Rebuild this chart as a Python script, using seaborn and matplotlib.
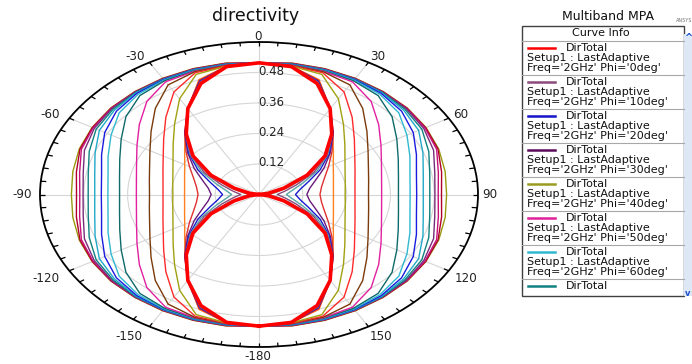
import numpy as np
import pandas as pd
import matplotlib
matplotlib.use("Agg")
import matplotlib.pyplot as plt
import seaborn as sns
from matplotlib.patches import Rectangle
from matplotlib.transforms import offset_copy

# theta (deg) of one quadrant, the other three quadrants are mirrored
theta_quarter = [0, 10, 20, 30, 40, 50, 60, 70, 80, 90]

# DirTotal traces, innermost (red figure-8) -> outermost
tr00 = [0.518, 0.511, 0.465, 0.390, 0.310, 0.236, 0.152, 0.072, 0.025, 0.000]
tr01 = [0.518, 0.511, 0.467, 0.390, 0.311, 0.240, 0.162, 0.089, 0.047, 0.025]
tr02 = [0.518, 0.511, 0.469, 0.390, 0.312, 0.244, 0.173, 0.108, 0.071, 0.050]
tr03 = [0.518, 0.511, 0.471, 0.390, 0.313, 0.247, 0.183, 0.126, 0.092, 0.075]
tr04 = [0.518, 0.512, 0.473, 0.391, 0.314, 0.251, 0.193, 0.143, 0.114, 0.100]
tr05 = [0.518, 0.512, 0.475, 0.391, 0.316, 0.255, 0.205, 0.165, 0.141, 0.131]
tr06 = [0.518, 0.512, 0.478, 0.392, 0.317, 0.261, 0.220, 0.191, 0.174, 0.167]
tr07 = [0.518, 0.512, 0.481, 0.389, 0.314, 0.266, 0.235, 0.217, 0.207, 0.204]
tr08 = [0.518, 0.513, 0.503, 0.435, 0.360, 0.307, 0.272, 0.251, 0.240, 0.236]
tr09 = [0.518, 0.514, 0.510, 0.466, 0.397, 0.341, 0.303, 0.280, 0.267, 0.263]
tr10 = [0.518, 0.515, 0.514, 0.498, 0.442, 0.386, 0.345, 0.319, 0.305, 0.300]
tr11 = [0.518, 0.516, 0.516, 0.512, 0.478, 0.428, 0.386, 0.357, 0.341, 0.336]
tr12 = [0.518, 0.517, 0.518, 0.517, 0.508, 0.476, 0.436, 0.406, 0.388, 0.382]
tr13 = [0.518, 0.518, 0.520, 0.520, 0.515, 0.500, 0.468, 0.440, 0.420, 0.414]
tr14 = [0.518, 0.519, 0.521, 0.522, 0.520, 0.510, 0.488, 0.459, 0.438, 0.432]
tr15 = [0.518, 0.520, 0.522, 0.523, 0.523, 0.517, 0.505, 0.478, 0.457, 0.450]
tr16 = [0.518, 0.521, 0.523, 0.524, 0.525, 0.522, 0.515, 0.495, 0.475, 0.468]
tr17 = [0.518, 0.522, 0.524, 0.525, 0.526, 0.526, 0.521, 0.509, 0.489, 0.482]
tr18 = [0.518, 0.523, 0.525, 0.526, 0.527, 0.528, 0.525, 0.518, 0.499, 0.491]
tr19 = [0.518, 0.524, 0.526, 0.527, 0.528, 0.529, 0.527, 0.522, 0.508, 0.500]
tr20 = [0.518, 0.525, 0.527, 0.528, 0.529, 0.530, 0.528, 0.524, 0.518, 0.514]
traces = [tr00, tr01, tr02, tr03, tr04, tr05, tr06, tr07, tr08, tr09, tr10,
          tr11, tr12, tr13, tr14, tr15, tr16, tr17, tr18, tr19, tr20]
trace_colors = ['#ff0000', '#8c8c8c', '#8b4a7a', '#5aa5a5', '#1a1ad0', '#6a1a7a',
                '#e03030', '#ff8020', '#a0a010', '#ff2a2a', '#7a3a0a', '#e020a0',
                '#0f6a6a', '#30b8d0', '#1a1ae0', '#20a8c8', '#108080', '#7a2a7a',
                '#c8107a', '#b0002a', '#9a9a10']

rings = [0.12, 0.24, 0.36, 0.48]
ring_labels = ["0.12", "0.24", "0.36", "0.48"]
angle_ticks = [0, 30, 60, 90, 120, 150, 180, 210, 240, 270, 300, 330]
angle_labels = ["0", "30", "60", "90", "120", "150", "-180", "-150", "-120", "-90", "-60", "-30"]

legend_phi = [0, 10, 20, 30, 40, 50, 60, 70]
legend_colors = ['#ff0000', '#8b4a7a', '#1414c8', '#5a0a5a', '#9a9a20', '#e0209a', '#30b8d0', '#108080']

# full sweep -180..180, mirrored from the quadrant tables
theta_full = np.arange(-180, 181, 10)
idx = np.where(np.abs(theta_full) <= 90, np.abs(theta_full), 180 - np.abs(theta_full)) // 10
rows = []
for k, tr in enumerate(traces):
    for t, i in zip(theta_full, idx):
        rows.append((k, np.deg2rad(t), tr[i]))
df = pd.DataFrame(rows, columns=["trace", "theta", "dir"])

W, H = 692, 364
fig = plt.figure(figsize=(W / 100, H / 100), dpi=100)
ax = fig.add_axes([40 / W, 17 / H, 438 / W, 305 / H], projection="polar")
ax.set_aspect("auto")
ax.set_theta_zero_location("N")
ax.set_theta_direction(-1)

for k in list(range(len(traces) - 1, 0, -1)) + [0]:
    sub = df[df["trace"] == k]
    sns.lineplot(data=sub, x="theta", y="dir", ax=ax, sort=False, estimator=None,
                 color=trace_colors[k], lw=2.6 if k == 0 else 1.0, legend=False)

ax.set_xlabel("")
ax.set_ylabel("")
ax.set_ylim(0, 0.6)
ax.set_yticks(rings)
ax.set_yticklabels([])
ax.set_xticks(np.deg2rad(angle_ticks))
ax.set_xticklabels([])
ax.grid(True, color="#d6d6d6", lw=0.8)
ax.spines["polar"].set_color("black")
ax.spines["polar"].set_linewidth(1.3)

# 5 deg tick marks on the rim, pointing inward
ax.vlines(np.deg2rad(np.arange(0, 360, 5)), 0.585, 0.6, color="black", lw=0.9)
ax.set_ylim(0, 0.6)

lab_tr = offset_copy(ax.transData, fig=fig, x=-1, y=1, units="dots")
for r, s in zip(rings, ring_labels):
    ax.text(0, r, s, transform=lab_tr, ha="left", va="center", fontsize=8.5, color="#222222")

# overlay in pixel coords for angle labels, title and the curve info panel
ov = fig.add_axes([0, 0, 1, 1])
ov.set_xlim(0, W)
ov.set_ylim(H, 0)
ov.axis("off")
ov.patch.set_alpha(0)

label_xy = [(258, 37), (378, 57), (461, 114), (490, 194), (466, 279), (381, 336),
            (258, 357), (129, 336), (46, 279), (22, 194), (50, 114), (135, 57)]
for (lx, ly), s in zip(label_xy, angle_labels):
    ov.text(lx, ly, s, ha="center", va="center", fontsize=8.6, color="#222222")

ov.text(256, 16, "directivity", ha="center", va="center", fontsize=12.5, color="#111111")
ov.text(608, 16, "Multiband MPA", ha="center", va="center", fontsize=9, color="#111111")
ov.text(684, 21, "ANSYS", ha="center", va="center", fontsize=3.5, color="#777777")

x0, x1, y0, y1 = 522, 684, 26, 296
ov.add_patch(Rectangle((x0, y0), x1 - x0, y1 - y0, fc="white", ec="#404040", lw=1.0))
ov.add_patch(Rectangle((x1, y0 + 8), 8, y1 - y0 - 8, fc="#dde7f6", ec="none"))
ov.text(688, y0 + 12, "^", ha="center", va="center", fontsize=7, color="#1a4fd0", fontweight="bold")
ov.text(688, y1 - 3, "v", ha="center", va="center", fontsize=6, color="#1a4fd0", fontweight="bold")
ov.text(601, 33.5, "Curve Info", ha="center", va="center", fontsize=8, color="#111111")
ov.plot([x0, x1], [40.7, 40.7], color="#a8a8a8", lw=0.8)

for i, (phi, col) in enumerate(zip(legend_phi, legend_colors)):
    top = 40.7 + 34 * i
    ov.plot([528, 555], [top + 7.5, top + 7.5], color=col, lw=1.8)
    ov.text(566, top + 7.5, "DirTotal", ha="left", va="center", fontsize=8, color="#111111")
    if top + 34 < y1:
        ov.text(527, top + 17.5, "Setup1 : LastAdaptive", ha="left", va="center",
                fontsize=8, color="#111111")
        ov.text(527, top + 27.5, "Freq='2GHz' Phi='%ddeg'" % phi, ha="left", va="center",
                fontsize=8, color="#111111")
        ov.plot([x0, x1], [top + 34, top + 34], color="#a8a8a8", lw=0.8)

fig.savefig("out.png", dpi=100)
